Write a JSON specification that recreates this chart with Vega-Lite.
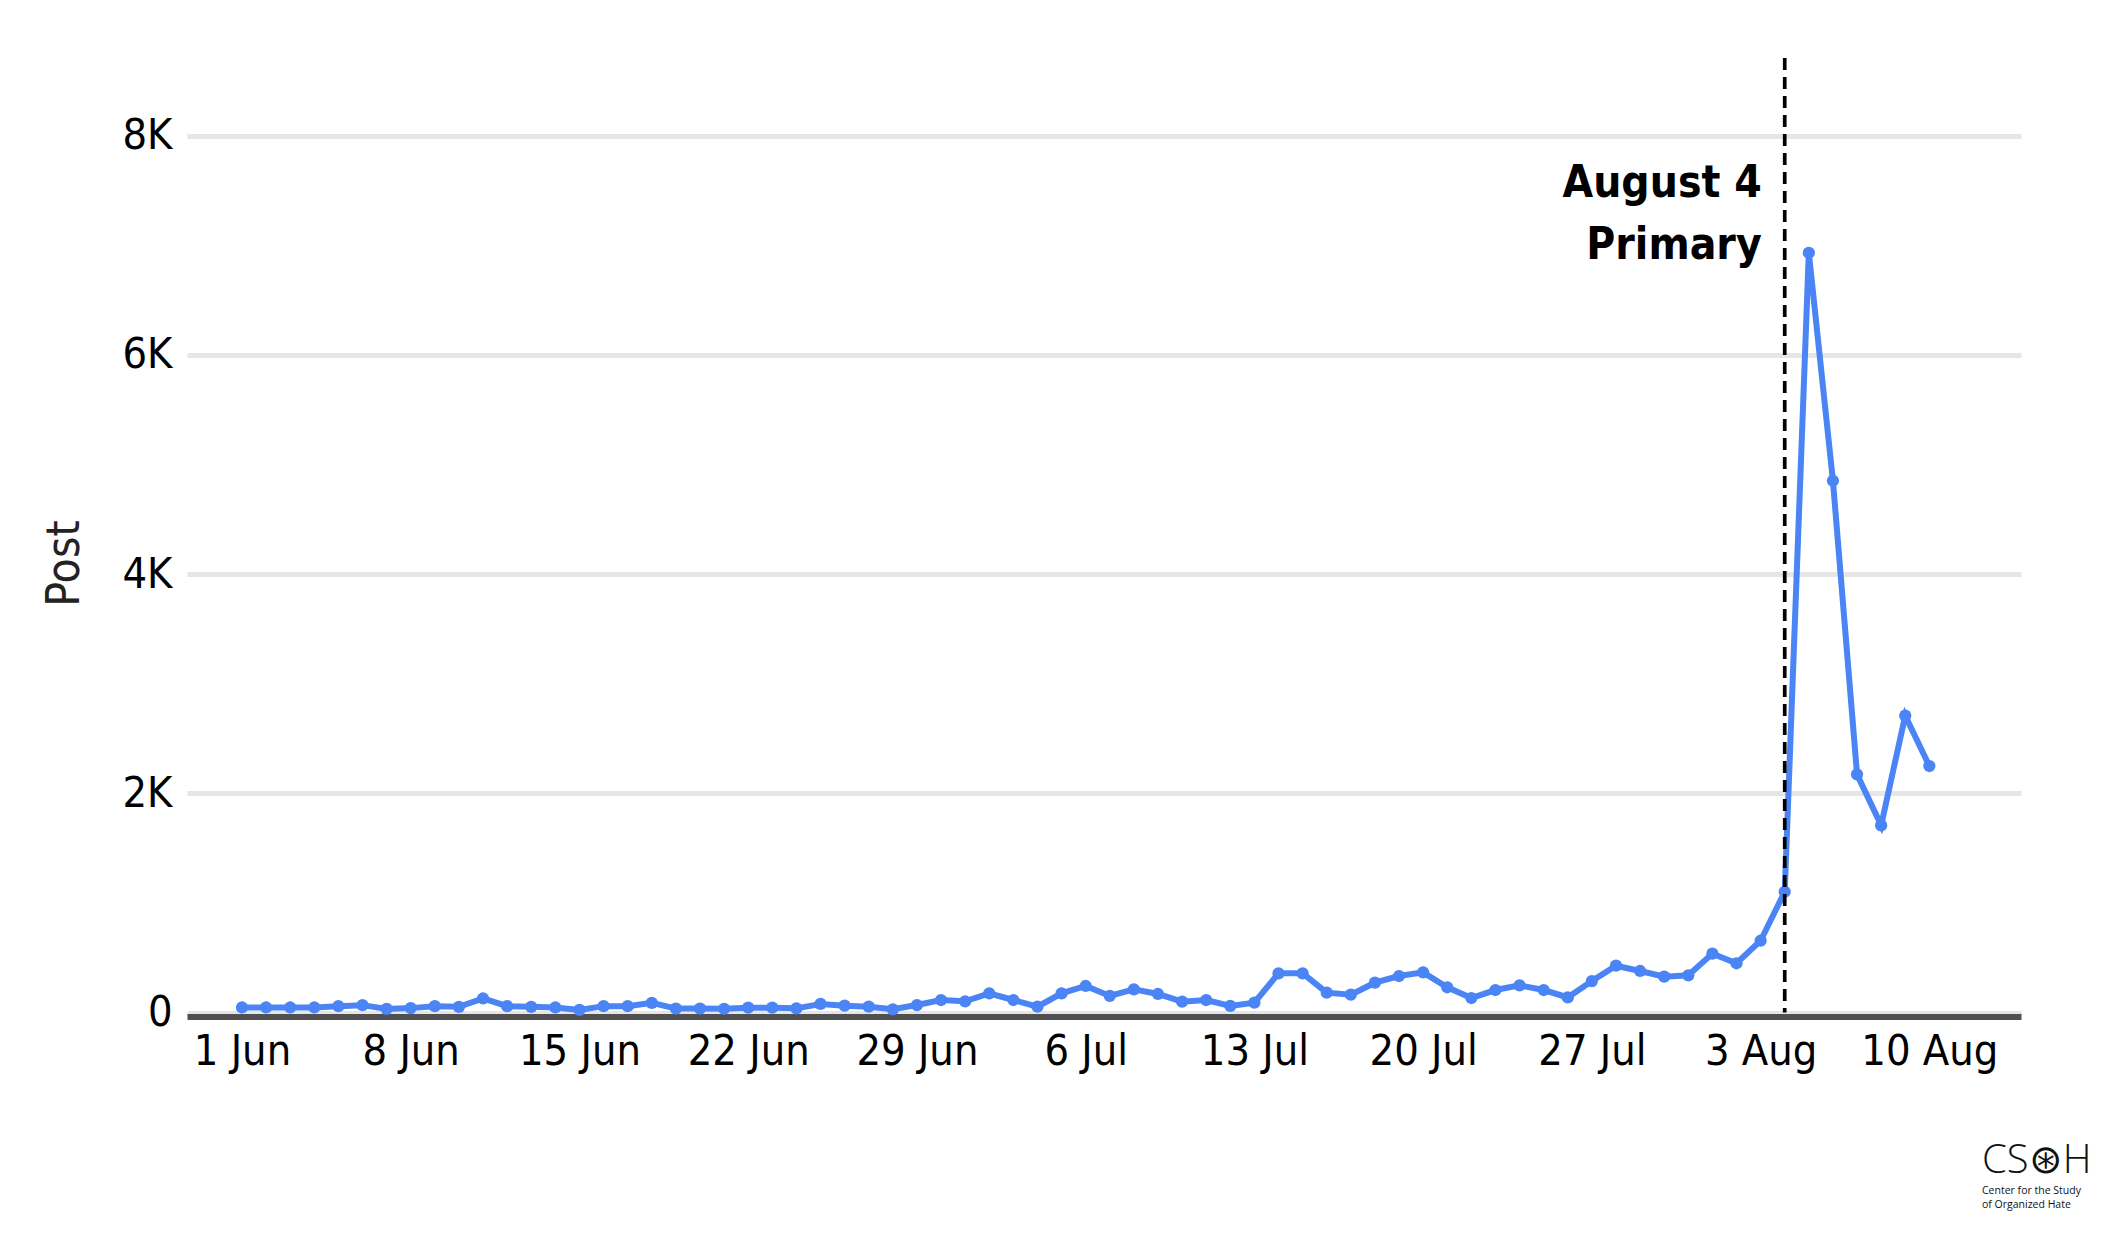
{
  "$schema": "https://vega.github.io/schema/vega-lite/v6.json",
  "description": "Daily posts, 1 Jun to 10 Aug, with the August 4 primary marked",
  "width": 1834,
  "height": 954.5,
  "autosize": "none",
  "padding": {"left": 187, "top": 58, "right": 104, "bottom": 239.5},
  "background": "white",
  "title": {
    "text": "CS⊛H",
    "subtitle": ["Center for the Study", "of Organized Hate"],
    "orient": "bottom",
    "anchor": "end",
    "align": "left",
    "baseline": "top",
    "dx": -39,
    "offset": 67,
    "font": "Open Sans",
    "fontSize": 40,
    "fontWeight": 300,
    "color": "#111111",
    "subtitleFont": "Open Sans",
    "subtitleFontSize": 10.5,
    "subtitleLineHeight": 14,
    "subtitleColor": "#111111",
    "subtitlePadding": 5
  },
  "config": {
    "view": {"stroke": null},
    "axis": {
      "labelFont": "DejaVu Sans Condensed, Roboto, sans-serif",
      "labelFontSize": 43,
      "labelColor": "#000000",
      "titleFont": "DejaVu Sans Condensed, Roboto, sans-serif",
      "titleFontSize": 46,
      "titleFontWeight": "normal",
      "titleColor": "#222222",
      "ticks": false
    }
  },
  "layer": [
    {
      "data": {
        "values": [
          {"date": "2020-06-01", "posts": 46},
          {"date": "2020-06-02", "posts": 46},
          {"date": "2020-06-03", "posts": 46},
          {"date": "2020-06-04", "posts": 46},
          {"date": "2020-06-05", "posts": 58},
          {"date": "2020-06-06", "posts": 67},
          {"date": "2020-06-07", "posts": 33},
          {"date": "2020-06-08", "posts": 40},
          {"date": "2020-06-09", "posts": 58},
          {"date": "2020-06-10", "posts": 52},
          {"date": "2020-06-11", "posts": 128},
          {"date": "2020-06-12", "posts": 58},
          {"date": "2020-06-13", "posts": 52},
          {"date": "2020-06-14", "posts": 46},
          {"date": "2020-06-15", "posts": 24},
          {"date": "2020-06-16", "posts": 58},
          {"date": "2020-06-17", "posts": 58},
          {"date": "2020-06-18", "posts": 88},
          {"date": "2020-06-19", "posts": 36},
          {"date": "2020-06-20", "posts": 36},
          {"date": "2020-06-21", "posts": 34},
          {"date": "2020-06-22", "posts": 44},
          {"date": "2020-06-23", "posts": 44},
          {"date": "2020-06-24", "posts": 38},
          {"date": "2020-06-25", "posts": 78},
          {"date": "2020-06-26", "posts": 62},
          {"date": "2020-06-27", "posts": 53},
          {"date": "2020-06-28", "posts": 29},
          {"date": "2020-06-29", "posts": 68},
          {"date": "2020-06-30", "posts": 114},
          {"date": "2020-07-01", "posts": 102},
          {"date": "2020-07-02", "posts": 175},
          {"date": "2020-07-03", "posts": 114},
          {"date": "2020-07-04", "posts": 53},
          {"date": "2020-07-05", "posts": 175},
          {"date": "2020-07-06", "posts": 242},
          {"date": "2020-07-07", "posts": 151},
          {"date": "2020-07-08", "posts": 211},
          {"date": "2020-07-09", "posts": 169},
          {"date": "2020-07-10", "posts": 99},
          {"date": "2020-07-11", "posts": 114},
          {"date": "2020-07-12", "posts": 60},
          {"date": "2020-07-13", "posts": 90},
          {"date": "2020-07-14", "posts": 357},
          {"date": "2020-07-15", "posts": 357},
          {"date": "2020-07-16", "posts": 181},
          {"date": "2020-07-17", "posts": 163},
          {"date": "2020-07-18", "posts": 272},
          {"date": "2020-07-19", "posts": 333},
          {"date": "2020-07-20", "posts": 366},
          {"date": "2020-07-21", "posts": 230},
          {"date": "2020-07-22", "posts": 132},
          {"date": "2020-07-23", "posts": 205},
          {"date": "2020-07-24", "posts": 248},
          {"date": "2020-07-25", "posts": 205},
          {"date": "2020-07-26", "posts": 138},
          {"date": "2020-07-27", "posts": 287},
          {"date": "2020-07-28", "posts": 427},
          {"date": "2020-07-29", "posts": 379},
          {"date": "2020-07-30", "posts": 327},
          {"date": "2020-07-31", "posts": 339},
          {"date": "2020-08-01", "posts": 537},
          {"date": "2020-08-02", "posts": 449},
          {"date": "2020-08-03", "posts": 655},
          {"date": "2020-08-04", "posts": 1102},
          {"date": "2020-08-05", "posts": 6932},
          {"date": "2020-08-06", "posts": 4852},
          {"date": "2020-08-07", "posts": 2173},
          {"date": "2020-08-08", "posts": 1708},
          {"date": "2020-08-09", "posts": 2708},
          {"date": "2020-08-10", "posts": 2249}
        ],
        "format": {"parse": {"date": "date:'%Y-%m-%d'"}}
      },
      "mark": {
        "type": "line",
        "color": "#4A84F5",
        "strokeWidth": 6,
        "point": {"filled": true, "size": 150, "color": "#4A84F5", "opacity": 1}
      },
      "encoding": {
        "x": {
          "field": "date",
          "type": "temporal",
          "scale": {
            "domain": [
              {"year": 2020, "month": 5, "date": 29, "hours": 17, "minutes": 15},
              {"year": 2020, "month": 8, "date": 13, "hours": 19, "minutes": 15}
            ]
          },
          "axis": {
            "title": null,
            "grid": false,
            "domain": true,
            "domainColor": "#505050",
            "domainWidth": 6,
            "offset": 4,
            "labelPadding": 14,
            "format": "%-d %b",
            "values": [
              {"year": 2020, "month": 6, "date": 1},
              {"year": 2020, "month": 6, "date": 8},
              {"year": 2020, "month": 6, "date": 15},
              {"year": 2020, "month": 6, "date": 22},
              {"year": 2020, "month": 6, "date": 29},
              {"year": 2020, "month": 7, "date": 6},
              {"year": 2020, "month": 7, "date": 13},
              {"year": 2020, "month": 7, "date": 20},
              {"year": 2020, "month": 7, "date": 27},
              {"year": 2020, "month": 8, "date": 3},
              {"year": 2020, "month": 8, "date": 10}
            ]
          }
        },
        "y": {
          "field": "posts",
          "type": "quantitative",
          "scale": {"domain": [0, 8709], "nice": false},
          "axis": {
            "title": "Post",
            "titlePadding": 34,
            "titleY": 505,
            "domain": false,
            "grid": true,
            "gridColor": "#e6e6e6",
            "gridWidth": 5,
            "labelPadding": 15,
            "values": [0, 2000, 4000, 6000, 8000],
            "labelExpr": "datum.value == 0 ? '0' : (datum.value / 1000) + 'K'"
          }
        }
      }
    },
    {
      "data": {
        "values": [{"date": "2020-08-04", "posts": 7763, "label": ["August 4", "Primary"]}],
        "format": {"parse": {"date": "date:'%Y-%m-%d'"}}
      },
      "layer": [
        {
          "mark": {"type": "rule", "color": "#000000", "strokeWidth": 3.7, "strokeDash": [12, 7]},
          "encoding": {
            "x": {"field": "date", "type": "temporal"}
          }
        },
        {
          "mark": {
            "type": "text",
            "align": "right",
            "baseline": "top",
            "dx": -23,
            "font": "DejaVu Sans Condensed, Roboto, sans-serif",
            "fontSize": 44,
            "fontWeight": "bold",
            "lineHeight": 62,
            "color": "#000000"
          },
          "encoding": {
            "x": {"field": "date", "type": "temporal"},
            "y": {"field": "posts", "type": "quantitative"},
            "text": {"field": "label"}
          }
        }
      ]
    }
  ]
}
